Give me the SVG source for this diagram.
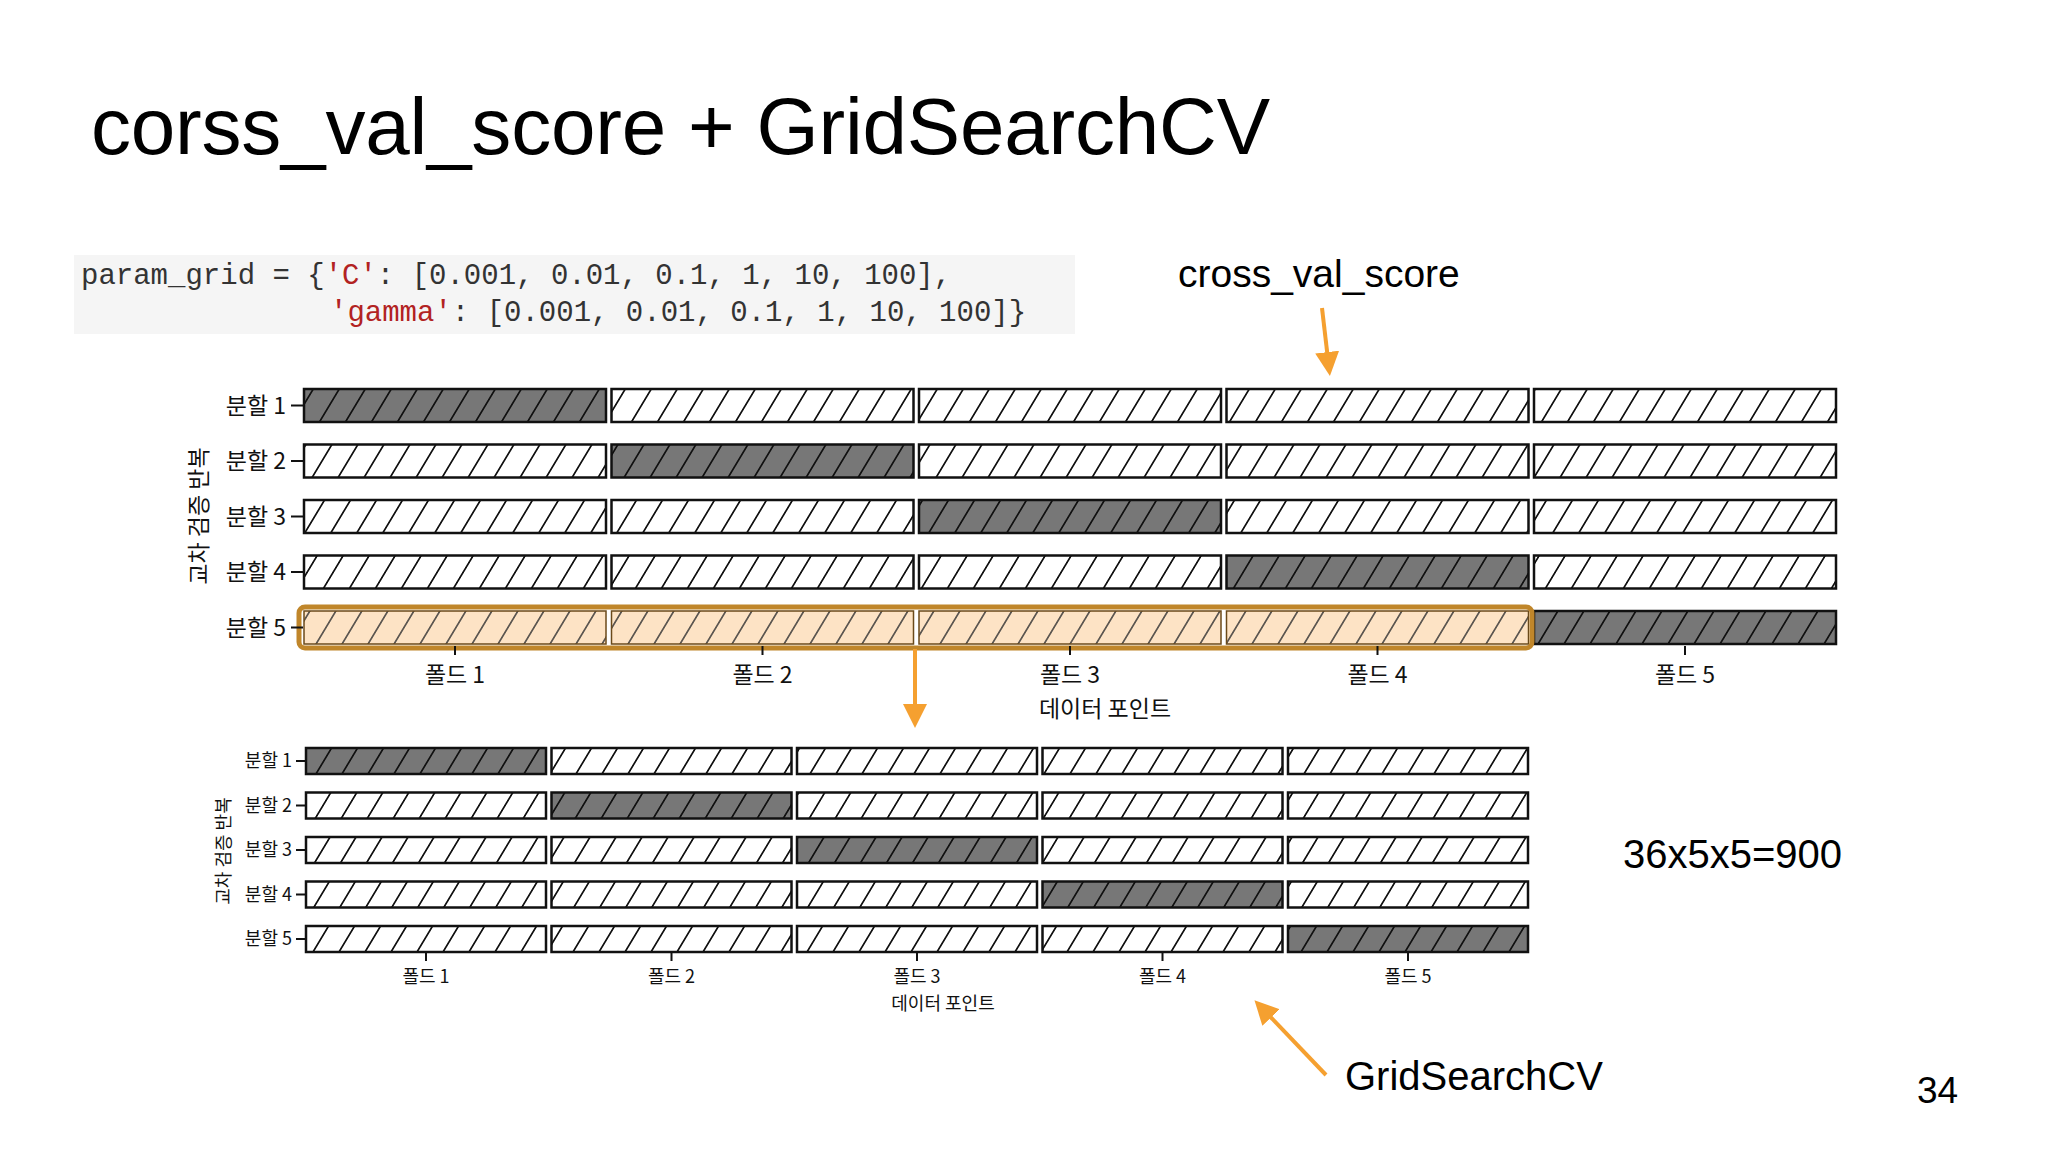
<svg xmlns="http://www.w3.org/2000/svg" width="2048" height="1152" viewBox="0 0 2048 1152">
<style>
.t{font-family:"Liberation Sans",Arial,sans-serif;fill:#000}
.k{font-family:"Noto Sans CJK KR","Noto Sans",sans-serif;fill:#111}
.code{font-family:"Liberation Mono","DejaVu Sans Mono",monospace;font-size:29px;fill:#333}
.str{fill:#b22222}
.cw{fill:url(#hw);stroke:#111;stroke-width:2.5}
.cd{fill:url(#hd);stroke:#111;stroke-width:2.5}
.co{fill:url(#ho);stroke:#6b4a1a;stroke-width:1.5}
.tick{stroke:#111;stroke-width:2}
.arr{stroke:#f5a030;stroke-width:4;fill:none;marker-end:url(#ah)}
</style>
<defs>
<pattern id="hw" patternUnits="userSpaceOnUse" width="26" height="40" patternTransform="skewX(-31)"><rect width="26" height="40" fill="#fff"/><line x1="1" y1="0" x2="1" y2="40" stroke="#111" stroke-width="2"/></pattern>
<pattern id="hd" patternUnits="userSpaceOnUse" width="26" height="40" patternTransform="skewX(-31)"><rect width="26" height="40" fill="#777"/><line x1="1" y1="0" x2="1" y2="40" stroke="#111" stroke-width="2"/></pattern>
<pattern id="ho" patternUnits="userSpaceOnUse" width="26" height="40" patternTransform="skewX(-31)"><rect width="26" height="40" fill="#fde3c5"/><line x1="1" y1="0" x2="1" y2="40" stroke="#333" stroke-width="1.6"/></pattern>
<marker id="ah" markerWidth="6" markerHeight="6" refX="4" refY="3" orient="auto" markerUnits="strokeWidth"><path d="M0,0 L6,3 L0,6 Z" fill="#f5a030"/></marker>
</defs>
<rect width="2048" height="1152" fill="#fff"/>
<text id="title" class="t" x="91" y="154" font-size="80" textLength="1179">corss_val_score + GridSearchCV</text>
<g id="code">
<rect x="74" y="255" width="1001" height="79" fill="#f5f5f5"/>
<text class="code" x="81" y="284">param_grid = {<tspan class="str">'C'</tspan>: [0.001, 0.01, 0.1, 1, 10, 100],</text>
<text class="code" x="330" y="321"><tspan class="str">'gamma'</tspan>: [0.001, 0.01, 0.1, 1, 10, 100]}</text>
</g>
<text id="cvs" class="t" x="1178" y="287" font-size="39">cross_val_score</text>
<g id="upper">
<g>
<rect class="cd" x="304" y="389" width="302" height="33"/><rect class="cw" x="611.5" y="389" width="302" height="33"/><rect class="cw" x="919" y="389" width="302" height="33"/><rect class="cw" x="1226.5" y="389" width="302" height="33"/><rect class="cw" x="1534" y="389" width="302" height="33"/>
<rect class="cw" x="304" y="444.5" width="302" height="33"/><rect class="cd" x="611.5" y="444.5" width="302" height="33"/><rect class="cw" x="919" y="444.5" width="302" height="33"/><rect class="cw" x="1226.5" y="444.5" width="302" height="33"/><rect class="cw" x="1534" y="444.5" width="302" height="33"/>
<rect class="cw" x="304" y="500" width="302" height="33"/><rect class="cw" x="611.5" y="500" width="302" height="33"/><rect class="cd" x="919" y="500" width="302" height="33"/><rect class="cw" x="1226.5" y="500" width="302" height="33"/><rect class="cw" x="1534" y="500" width="302" height="33"/>
<rect class="cw" x="304" y="555.5" width="302" height="33"/><rect class="cw" x="611.5" y="555.5" width="302" height="33"/><rect class="cw" x="919" y="555.5" width="302" height="33"/><rect class="cd" x="1226.5" y="555.5" width="302" height="33"/><rect class="cw" x="1534" y="555.5" width="302" height="33"/>
<rect class="co" x="304" y="611" width="302" height="33"/><rect class="co" x="611.5" y="611" width="302" height="33"/><rect class="co" x="919" y="611" width="302" height="33"/><rect class="co" x="1226.5" y="611" width="302" height="33"/><rect class="cd" x="1534" y="611" width="302" height="33"/>
<rect x="299" y="607" width="1233" height="41" rx="6" fill="none" stroke="#c0862a" stroke-width="5"/>
</g>
<g font-size="23" text-anchor="end">
<text class="k" x="286" y="414">분할 1</text><text class="k" x="286" y="469">분할 2</text><text class="k" x="286" y="525">분할 3</text><text class="k" x="286" y="580">분할 4</text><text class="k" x="286" y="636">분할 5</text>
</g>
<path class="tick" d="M291,405.5H303M291,461H303M291,516.5H303M291,572H303M291,627.5H303M455,646v9M762.5,646v9M1070,646v9M1377.5,646v9M1685,646v9"/>
<g font-size="23" text-anchor="middle">
<text class="k" x="455" y="683">폴드 1</text><text class="k" x="762.5" y="683">폴드 2</text><text class="k" x="1070" y="683">폴드 3</text><text class="k" x="1377.5" y="683">폴드 4</text><text class="k" x="1685" y="683">폴드 5</text>
<text class="k" x="1105" y="717">데이터 포인트</text>
<text class="k" x="0" y="0" transform="translate(207,516) rotate(-90)">교차 검증 반복</text>
</g>
</g>
<g id="lower">
<g>
<rect class="cd" x="306" y="748" width="240" height="26"/><rect class="cw" x="551.5" y="748" width="240" height="26"/><rect class="cw" x="797" y="748" width="240" height="26"/><rect class="cw" x="1042.5" y="748" width="240" height="26"/><rect class="cw" x="1288" y="748" width="240" height="26"/>
<rect class="cw" x="306" y="792.5" width="240" height="26"/><rect class="cd" x="551.5" y="792.5" width="240" height="26"/><rect class="cw" x="797" y="792.5" width="240" height="26"/><rect class="cw" x="1042.5" y="792.5" width="240" height="26"/><rect class="cw" x="1288" y="792.5" width="240" height="26"/>
<rect class="cw" x="306" y="837" width="240" height="26"/><rect class="cw" x="551.5" y="837" width="240" height="26"/><rect class="cd" x="797" y="837" width="240" height="26"/><rect class="cw" x="1042.5" y="837" width="240" height="26"/><rect class="cw" x="1288" y="837" width="240" height="26"/>
<rect class="cw" x="306" y="881.5" width="240" height="26"/><rect class="cw" x="551.5" y="881.5" width="240" height="26"/><rect class="cw" x="797" y="881.5" width="240" height="26"/><rect class="cd" x="1042.5" y="881.5" width="240" height="26"/><rect class="cw" x="1288" y="881.5" width="240" height="26"/>
<rect class="cw" x="306" y="926" width="240" height="26"/><rect class="cw" x="551.5" y="926" width="240" height="26"/><rect class="cw" x="797" y="926" width="240" height="26"/><rect class="cw" x="1042.5" y="926" width="240" height="26"/><rect class="cd" x="1288" y="926" width="240" height="26"/>
</g>
<g font-size="18" text-anchor="end">
<text class="k" x="292" y="767">분할 1</text><text class="k" x="292" y="812">분할 2</text><text class="k" x="292" y="856">분할 3</text><text class="k" x="292" y="901">분할 4</text><text class="k" x="292" y="945">분할 5</text>
</g>
<path class="tick" d="M296,761H305M296,805.5H305M296,850H305M296,894.5H305M296,939H305M426,953v8M671.5,953v8M917,953v8M1162.5,953v8M1408,953v8"/>
<g font-size="18" text-anchor="middle">
<text class="k" x="426" y="983">폴드 1</text><text class="k" x="671.5" y="983">폴드 2</text><text class="k" x="917" y="983">폴드 3</text><text class="k" x="1162.5" y="983">폴드 4</text><text class="k" x="1408" y="983">폴드 5</text>
<text class="k" x="943" y="1010">데이터 포인트</text>
<text class="k" x="0" y="0" transform="translate(230,851) rotate(-90)">교차 검증 반복</text>
</g>
</g>
<g id="connectors">
<path class="arr" d="M1322,308L1329,368"/>
<path class="arr" d="M915,649V720"/>
<path class="arr" d="M1326,1075L1260,1006"/>
</g>
<text id="calc" class="t" x="1623" y="868" font-size="40">36x5x5=900</text>
<text id="gscv" class="t" x="1345" y="1090" font-size="40">GridSearchCV</text>
<text id="page" class="t" x="1917" y="1103" font-size="37">34</text>
</svg>
